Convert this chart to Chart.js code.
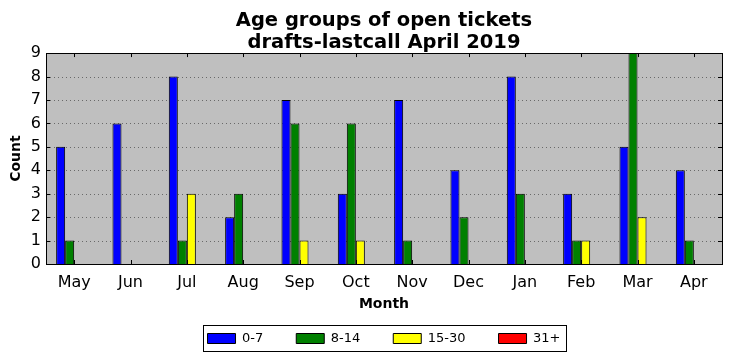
<!DOCTYPE html>
<html>
<head>
<meta charset="utf-8">
<script src="https://cdn.jsdelivr.net/npm/chart.js@4"></script>
<style>
  html, body { margin: 0; padding: 0; background: #fff; }
  #wrap { width: 732px; height: 361px; }
</style>
</head>
<body>
<div id="wrap"><canvas id="chart1"></canvas></div>
<script>
const months = ["May", "Jun", "Jul", "Aug", "Sep", "Oct", "Nov", "Dec", "Jan", "Feb", "Mar", "Apr"];
const age0to7 = [5, 6, 8, 2, 7, 3, 7, 4, 8, 3, 5, 4];
const age8to14 = [1, 0, 1, 3, 6, 6, 1, 2, 3, 1, 9, 1];
const age15to30 = [0, 0, 3, 0, 1, 1, 0, 0, 0, 1, 2, 0];
const age31plus = [0, 0, 0, 0, 0, 0, 0, 0, 0, 0, 0, 0];
const yTicks = [0, 1, 2, 3, 4, 5, 6, 7, 8, 9];

Chart.defaults.font.family = "'DejaVu Sans', sans-serif";
Chart.defaults.color = '#000';

// gray plot background, frame, inward ticks, legend frame
const frame = {
  id: 'frame',
  beforeDatasetsDraw(chart) {
    const { ctx, chartArea: a } = chart;
    ctx.save();
    ctx.fillStyle = '#bfbfbf';
    ctx.fillRect(a.left, a.top, a.right - a.left, a.bottom - a.top);
    // dotted grid
    ctx.strokeStyle = 'rgba(0,0,0,0.45)';
    ctx.lineWidth = 1;
    ctx.setLineDash([1, 3]);
    const y = chart.scales.y;
    yTicks.forEach(v => {
      const py = Math.round(y.getPixelForValue(v)) + 0.5;
      ctx.beginPath(); ctx.moveTo(a.left, py); ctx.lineTo(a.right, py); ctx.stroke();
    });
    ctx.restore();
  },
  afterDraw(chart) {
    const { ctx, chartArea: a } = chart;
    const x = chart.scales.x, y = chart.scales.y;
    ctx.save();
    ctx.strokeStyle = '#000';
    ctx.lineWidth = 1;
    ctx.beginPath();
    yTicks.forEach(v => {
      const py = Math.round(y.getPixelForValue(v)) + 0.5;
      ctx.moveTo(a.left, py); ctx.lineTo(a.left + 4, py);
      ctx.moveTo(a.right, py); ctx.lineTo(a.right - 4, py);
    });
    months.forEach((m, i) => {
      const px = Math.round(x.getPixelForValue(i)) + 0.5;
      ctx.moveTo(px, a.top); ctx.lineTo(px, a.top + 4);
      ctx.moveTo(px, a.bottom); ctx.lineTo(px, a.bottom - 4);
    });
    ctx.stroke();
    ctx.strokeRect(Math.round(a.left) + 0.5, Math.round(a.top) + 0.5,
      Math.round(a.right - a.left), Math.round(a.bottom - a.top));
    // legend border
    const hb = chart.legend.legendHitBoxes;
    if (hb && hb.length) {
      const l = Math.min(...hb.map(h => h.left)) - 5;
      const r = Math.max(...hb.map(h => h.left + h.width)) + 5;
      const t = Math.min(...hb.map(h => h.top)) - 7;
      const b = Math.max(...hb.map(h => h.top + h.height)) + 6;
      ctx.strokeRect(Math.round(l) + 0.5, Math.round(t) + 0.5, Math.round(r - l), Math.round(b - t));
    }
    ctx.restore();
  }
};

const ctx1 = document.getElementById('chart1');

function series(label, data, color) {
  return {
    label: label,
    data: data,
    backgroundColor: color,
    borderColor: '#000',
    borderWidth: 1,
    borderSkipped: 'start',
    categoryPercentage: 0.64,
    barPercentage: 1.0
  };
}

new Chart(ctx1, {
  type: 'bar',
  data: {
    labels: months,
    datasets: [
      series('0-7', age0to7, '#0000ff'),
      series('8-14', age8to14, '#008000'),
      series('15-30', age15to30, '#ffff00'),
      series('31+', age31plus, '#ff0000')
    ]
  },
  options: {
    responsive: true,
    maintainAspectRatio: false,
    animation: false,
    layout: { padding: { left: 0, right: 10, top: 4, bottom: 6 } },
    plugins: {
      title: {
        display: true,
        fullSize: false,
        text: ['Age groups of open tickets', 'drafts-lastcall April 2019'],
        font: { size: 19.5, weight: 'bold', lineHeight: 1.13 },
        padding: { top: 6, bottom: -1 }
      },
      legend: {
        position: 'bottom',
        fullSize: false,
        labels: {
          boxWidth: 28,
          boxHeight: 10,
          padding: 33,
          font: { size: 13 },
          color: '#000'
        }
      },
      tooltip: { enabled: false }
    },
    scales: {
      x: {
        grid: { display: false, drawTicks: false },
        border: { display: false },
        ticks: { font: { size: 16 }, padding: 9 },
        title: { display: true, text: 'Month', font: { size: 14, weight: 'bold' }, padding: { top: -5.6, bottom: -13.4 } }
      },
      y: {
        min: 0,
        max: 9,
        grid: { display: false, drawTicks: false },
        border: { display: false },
        ticks: { stepSize: 1, autoSkip: false, font: { size: 16 }, padding: 5 },
        title: { display: true, text: 'Count', font: { size: 14, weight: 'bold' }, padding: { top: 8, bottom: 0 } },
        afterFit(scale) { scale.width = 46; }
      }
    }
  },
  plugins: [frame]
});
</script>
</body>
</html>
